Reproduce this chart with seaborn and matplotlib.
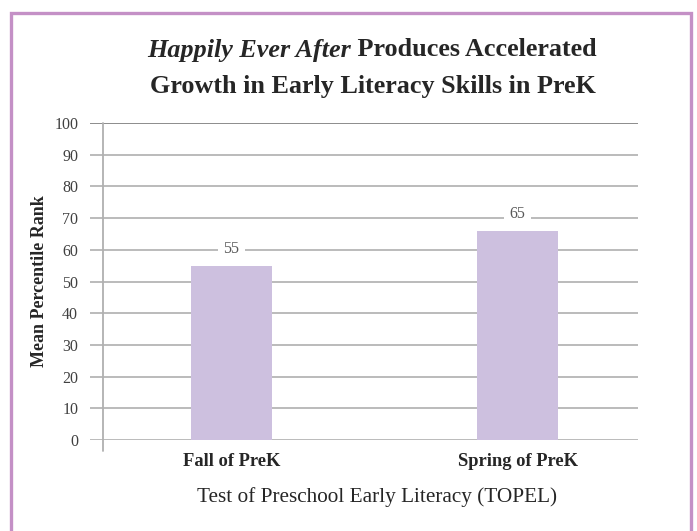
import matplotlib
matplotlib.use('Agg')
import matplotlib.pyplot as plt
import seaborn as sns
import pandas as pd
from matplotlib.patches import Rectangle

categories = ["Fall of PreK", "Spring of PreK"]
values = [55, 66]
bar_labels = ["55", "65"]
yticks = list(range(0, 101, 10))

title_italic = "Happily Ever After"
title_rest = " Produces Accelerated"
title_line2 = "Growth in Early Literacy Skills in PreK"
ylabel = "Mean Percentile Rank"
xlabel = "Test of Preschool Early Literacy (TOPEL)"

sns.set_style("white")
plt.rcParams['font.family'] = ['Liberation Serif', 'DejaVu Serif']

W, H = 697, 531
fig = plt.figure(figsize=(W / 100, H / 100), dpi=100)
ax = fig.add_axes([90 / W, 1 - 440 / H, (638 - 90) / W, (440 - 123) / H])

df = pd.DataFrame({"period": categories, "score": values})
sns.barplot(data=df, x="period", y="score", color="#cdc0df", saturation=1,
            width=0.283, linewidth=0, edgecolor="none", ax=ax, zorder=3)

ax.set_xlim(-0.493, 1.42)
ax.set_ylim(0, 100)
ax.set_yticks(yticks)
ax.set_yticklabels([str(t) for t in yticks], fontsize=11.5, color="#404040")
ax.set_xticks(range(len(categories)))
ax.set_xticklabels(categories, fontsize=13.3, fontweight="bold")
ax.tick_params(axis="both", length=0)
ax.tick_params(axis="y", pad=8.5)
ax.tick_params(axis="x", pad=9)
for s in ax.spines.values():
    s.set_visible(False)

for t in yticks:
    c = "#6e6e6e" if t == 100 else "#a8a8a8"
    ax.axhline(t, color=c, lw=1.1, zorder=1)
ax.plot([-0.448, -0.448], [100, -3.6], color="#b0b0b0", lw=1.3,
        clip_on=False, zorder=2)

for i, (v, lab) in enumerate(zip(values, bar_labels)):
    ax.annotate(lab, (i, v), xytext=(0, 12), textcoords="offset points",
                ha="center", va="center", fontsize=11.5, color="#595959",
                bbox=dict(boxstyle="square,pad=0.35", fc="white", ec="none"),
                zorder=4)

ax.set_ylabel(ylabel, fontsize=13, fontweight="bold")
ax.yaxis.set_label_coords(-0.076, 0.5)
ax.set_xlabel("")
fig.text(377 / W, 1 - 497 / H, xlabel, ha="center", va="center", fontsize=15.3)

# two-style title line
t1 = fig.text(0, 1 - 50 / H, title_italic, fontsize=18.8, fontweight="bold",
              style="italic", va="center")
t2 = fig.text(0, 1 - 50 / H, title_rest, fontsize=18.8, fontweight="bold",
              va="center")
fig.canvas.draw()
r = fig.canvas.get_renderer()
w1 = t1.get_window_extent(r).width
w2 = t2.get_window_extent(r).width
x0 = 372 - (w1 + w2) / 2
t1.set_x(x0 / W)
t2.set_x((x0 + w1) / W)
fig.text(373 / W, 1 - 86 / H, title_line2, ha="center", va="center",
         fontsize=18.8, fontweight="bold")

fig.patches.append(Rectangle((10.5 / W, -0.05), (691 - 10.5) / W,
                             1 - 13 / H + 0.05, transform=fig.transFigure,
                             fill=False, ec="#c490c6", lw=2.4))

fig.savefig("out.png", dpi=100)
